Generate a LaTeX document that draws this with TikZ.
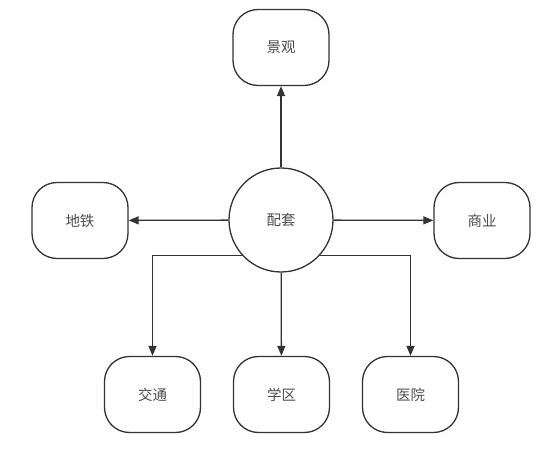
\documentclass[tikz,border=0pt]{standalone}
\usepackage{fontspec}
\setmainfont{Noto Sans CJK SC}
\usetikzlibrary{arrows.meta}
\begin{document}
\begin{tikzpicture}[x=1pt,y=-1pt,
  box/.style={draw=black!80,line width=1.3pt,rounded corners=25pt,minimum width=96pt,minimum height=76pt,inner sep=0pt,font=\fontsize{14.5}{16}\selectfont,text=black!70},
  hub/.style={draw=black!80,line width=1.3pt,circle,minimum size=104pt,inner sep=0pt,font=\fontsize{14.5}{16}\selectfont,text=black!70},
  link/.style={draw=black!80,line width=1.3pt,-{Triangle[length=10pt,width=8pt]}}]
\useasboundingbox (0,0) rectangle (550,460);
\node[hub] (c) at (281,220) {配套};
\node[box] (jg) at (281,47.5) {景观};
\node[box] (dt) at (80,220.5) {地铁};
\node[box] (sy) at (482,220.5) {商业};
\node[box] (jt) at (152.5,394.5) {交通};
\node[box] (xq) at (281.5,394.5) {学区};
\node[box] (yy) at (410.5,394.5) {医院};
\draw[link] (c) -- (jg);
\draw[link] (c) -- (dt);
\draw[link] (c) -- (sy);
\draw[link] (c) -- (xq);
\draw[link] (c.222) -| (jt.north);
\draw[link] (c.318) -| (yy.north);
\end{tikzpicture}
\end{document}
